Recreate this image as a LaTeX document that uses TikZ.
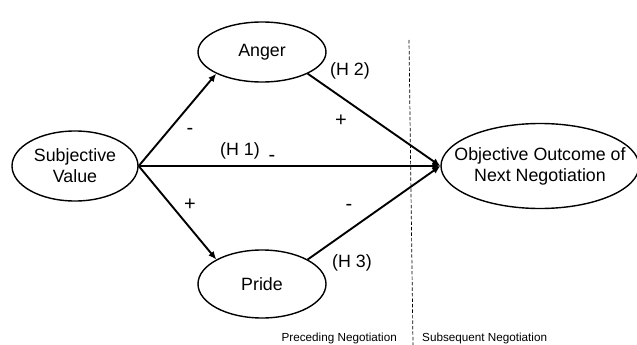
\documentclass[tikz,border=0pt]{standalone}
\usepackage{fontspec}
\setmainfont{Liberation Sans}
\usetikzlibrary{shapes.geometric,arrows.meta}
\begin{document}
\begin{tikzpicture}[x=1pt,y=-1pt,
  oval/.style={draw,ellipse,line width=1.4pt,inner sep=0pt},
  txt/.style={font=\fontsize{17.8}{21}\selectfont,align=center,inner sep=0pt},
  sign/.style={font=\fontsize{20}{22}\selectfont,inner sep=0pt},
  small/.style={font=\fontsize{11.7}{13}\selectfont,inner sep=0pt},
  arr/.style={line width=1.9pt,-{Latex[length=8pt,width=7pt]}},
  sep/.style={line width=0.7pt,dash pattern=on 3.5pt off 2pt}
  ]
\useasboundingbox (0,0) rectangle (637,345);
% ellipses
\node[oval,minimum width=126pt,minimum height=70pt] (sv) at (75,166) {};
\node[oval,minimum width=128pt,minimum height=60pt] (anger) at (262,52) {};
\node[oval,minimum width=128pt,minimum height=68pt] (pride) at (262,284) {};
\node[oval,minimum width=198pt,minimum height=85pt] (obj) at (540,166) {};
% texts
\node[txt] (svt) at (sv) {Subjective\\Value};
\node[txt] (angert) at (anger) {Anger};
\node[txt] (pridet) at (pride) {Pride};
\node[txt] (objt) at (obj) {Objective Outcome of\\Next Negotiation};
% separator
\coordinate (septop) at (409,40);
\coordinate (sepbot) at (413,345);
\draw[sep] (septop) -- (sepbot);
% arrows
\draw[arr] (sv.east) -- (anger.south west);
\draw[arr] (sv.east) -- (pride.north west);
\draw[arr] (sv.east) -- (obj.west);
\draw[arr] (anger.south east) -- (obj.west);
\draw[arr] (pride.north east) -- (obj.west);
% signs and hypothesis labels
\node[sign] (m1) at (190,131) {-};
\node[sign] (p1) at (190,205) {+};
\node[txt] (h1) at (240,151) {(H 1)};
\node[sign] (m2) at (272,158) {-};
\node[txt] (h2) at (350,71) {(H 2)};
\node[sign] (p2) at (341,121) {+};
\node[sign] (m3) at (349,207) {-};
\node[txt] (h3) at (352,263) {(H 3)};
% bottom labels
\node[small,anchor=east] (prec) at (397,338) {Preceding Negotiation};
\node[small,anchor=west] (subs) at (422,338) {Subsequent Negotiation};
\end{tikzpicture}
\end{document}
